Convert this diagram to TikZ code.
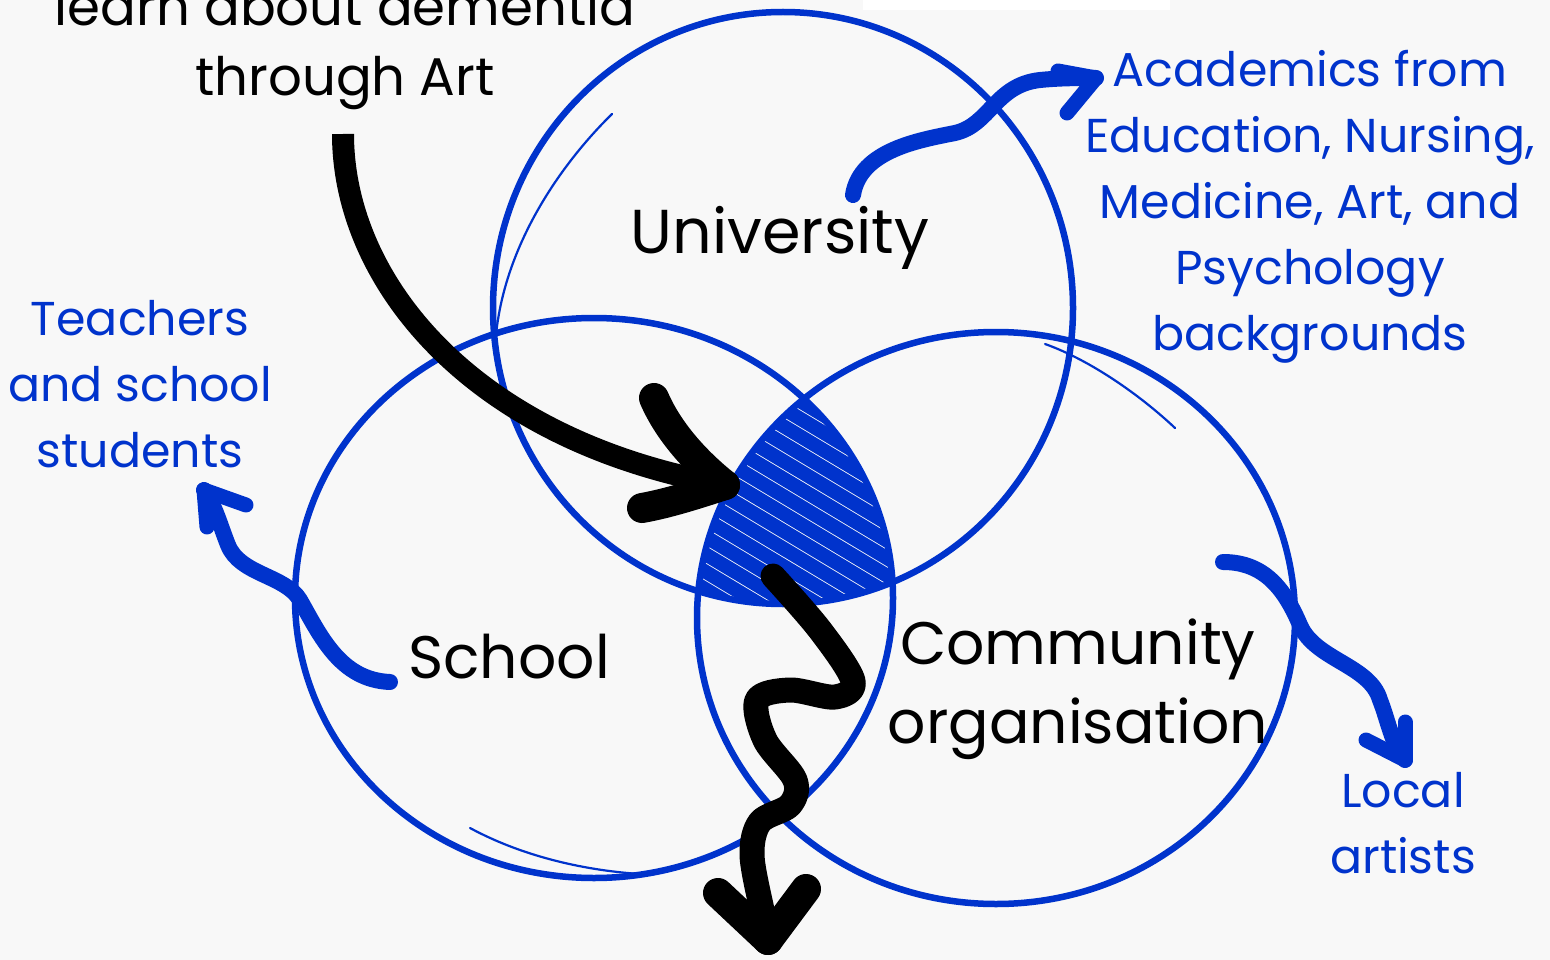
\documentclass[tikz,border=0pt]{standalone}
\usepackage{fontspec}
\setmainfont{Poppins}
\definecolor{vblue}{RGB}{0,51,204}
\definecolor{bgc}{RGB}{248,248,248}
\tikzset{
  ring/.style={draw=vblue, line width=6.5},
  thinring/.style={draw=vblue, line width=2.2, line cap=round},
  blackarrow/.style={draw=black, line width=22, line cap=round, line join=round},
  blackhead/.style={draw=black, line width=30, line cap=round},
  bluearrow/.style={draw=vblue, line width=16, line cap=round, line join=round},
  bluehead/.style={draw=vblue, line width=15, line cap=round},
  mainlabel/.style={text=black, font=\fontsize{60}{79}\selectfont, align=center, inner sep=0pt, anchor=base},
  sidelabel/.style={text=vblue, font=\fontsize{47.5}{66}\selectfont, align=center, inner sep=0pt, anchor=base},
  toplabel/.style={text=black, font=\fontsize{53}{70}\selectfont, align=center, inner sep=0pt, anchor=base}
}
\begin{document}
\begin{tikzpicture}[x=1pt,y=-1pt]
\fill[bgc] (0,0) rectangle (1550,960);
\useasboundingbox (0,0) rectangle (1550,960);
\fill[white] (863,0) rectangle (1170,10);

% scribble in the common area
\begin{scope}
\clip (783,308) ellipse [x radius=290, y radius=296];
\clip (594,598) ellipse [x radius=299, y radius=280];
\clip (996,618) ellipse [x radius=299, y radius=286];
\foreach \t in {-120,-105,...,130}{
  \draw[vblue, line width=14, line cap=round]
    ({790-0.514*\t-0.857*170},{500+0.857*\t-0.514*170}) --
    ({790-0.514*\t+0.857*170},{500+0.857*\t+0.514*170});
}
\end{scope}

% circles
\draw[ring] (783,308) ellipse [x radius=290, y radius=296];
\draw[ring] (594,598) ellipse [x radius=299, y radius=280];
\draw[ring] (996,618) ellipse [x radius=299, y radius=286];
\draw[thinring] (612,114) .. controls (560,165) and (505,245) .. (496,335);
\draw[thinring] (1045,344) .. controls (1090,360) and (1140,395) .. (1175,428);
\draw[thinring] (470,828) .. controls (520,855) and (580,870) .. (640,874);

% labels
\node[toplabel] (top) at (345,96) {learn about dementia\\through Art};
\node[mainlabel, font=\fontsize{62}{79}\selectfont] (uni) at (780,254) {University};
\node[mainlabel] (school) at (509,678) {School};
\node[mainlabel] (comm) at (1078,743) {Community\\organisation};
\node[sidelabel] (acad) at (1310,350) {Academics from\\Education, Nursing,\\Medicine, Art, and\\Psychology\\backgrounds};
\node[sidelabel] (teach) at (140,467) {Teachers\\and school\\students};
\node[sidelabel] (local) at (1403,873) {Local\\artists};

% black arrow from top text
\coordinate (a1s) at (343,134);
\coordinate (a1e) at (725,485);
\draw[blackarrow, line cap=butt] (a1s) .. controls (343,280) and (470,440) .. (a1e);
\draw[blackhead] (654,398) .. controls (670,435) and (700,465) .. (a1e);
\draw[blackhead] (642,508) .. controls (670,503) and (700,493) .. (a1e);

% black squiggle
\coordinate (a2s) at (773,576);
\coordinate (a2e) at (768,940);
\draw[blackarrow, line width=25] plot[smooth, tension=0.55] coordinates {(773,576) (820,630) (853,681) (835,697) (790,690) (757,700) (765,740) (795,780) (790,805) (760,822) (752,855) (762,910) (768,935)};
\draw[blackhead] (718,893) -- (a2e);
\draw[blackhead] (806,889) -- (a2e);

% blue arrows
\coordinate (b1s) at (853,195);
\coordinate (b1e) at (1096,78);
\draw[bluearrow] (b1s) .. controls (860,150) and (920,140) .. (955,133) .. controls (990,125) and (995,85) .. (1040,80) .. controls (1060,78) and (1080,78) .. (b1e);
\draw[bluehead] (1058,71) -- (b1e);
\draw[bluehead] (1067,113) -- (b1e);

\coordinate (b2s) at (390,682);
\coordinate (b2e) at (204,490);
\draw[bluearrow] (b2s) .. controls (340,680) and (320,635) .. (300,600) .. controls (285,575) and (240,575) .. (228,545) .. controls (220,525) and (215,505) .. (b2e);
\draw[bluehead] (246,505) -- (b2e);
\draw[bluehead] (207,527) -- (b2e);

\coordinate (b3s) at (1223,562);
\coordinate (b3e) at (1405,760);
\draw[bluearrow] (b3s) .. controls (1265,562) and (1285,590) .. (1300,625) .. controls (1315,660) and (1370,665) .. (1380,700) .. controls (1388,720) and (1392,745) .. (b3e);
\draw[bluehead] (1366,740) -- (b3e);
\draw[bluehead] (1405,722) -- (b3e);
\end{tikzpicture}
\end{document}
